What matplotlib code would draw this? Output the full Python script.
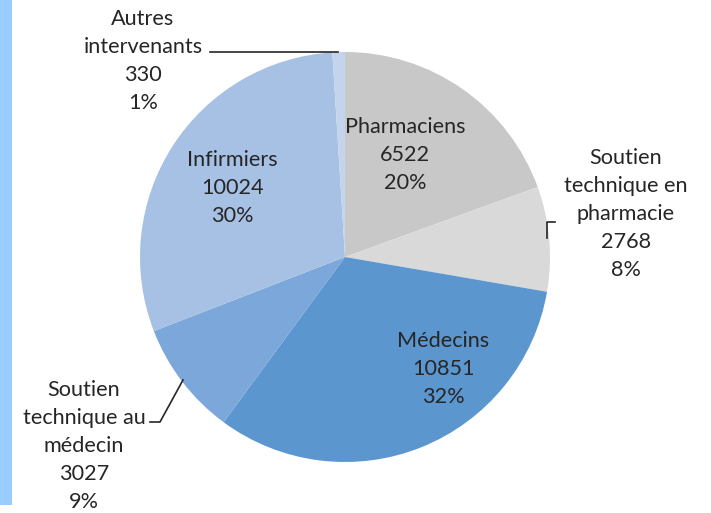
import matplotlib.pyplot as plt
from matplotlib.patches import Rectangle

# data
labels = ['Pharmaciens', 'Soutien\ntechnique en\npharmacie', 'Médecins',
          'Soutien\ntechnique au\nmédecin', 'Infirmiers', 'Autres\nintervenants']
values = [6522, 2768, 10851, 3027, 10024, 330]
percents = [20, 8, 32, 9, 30, 1]
colors = ['#C8C8C8', '#D9D9D9', '#5B96CE', '#7BA7DA', '#A7C1E4', '#C3D4EC']

# label centres in pixel coords (x, y from top)
label_pos = [(405, 155), (626, 214), (443, 369), (84, 446), (232, 188), (143, 61)]

W, H = 711, 513
fig = plt.figure(figsize=(W / 100, H / 100), dpi=100)
ax = fig.add_axes([0, 0, 1, 1])

# left blue strip
ax.add_patch(Rectangle((0, H - 505), 12, 505, color='#99CCFF', lw=0))

ax.pie(values, colors=colors, startangle=90, counterclock=False,
       center=(345, H - 257), radius=205, wedgeprops=dict(linewidth=0),
       frame=True)
ax.set_xlim(0, W)
ax.set_ylim(0, H)
ax.set_aspect('equal')
ax.axis('off')

for lab, v, p, (x, y) in zip(labels, values, percents, label_pos):
    txt = f'{lab}\n{v}\n{p}%'
    ax.text(x, H - y, txt, ha='center', va='center', fontsize=15.6,
            family='Lato', color='#262626', linespacing=1.5)

# leader lines
lc = dict(color='#262626', lw=1.2)
ax.plot([210, 338], [H - 52, H - 52], **lc)
ax.plot([547, 547, 555], [H - 238, H - 222, H - 222], **lc)
ax.plot([183, 160, 150], [H - 380, H - 422, H - 422], **lc)

fig.savefig('out.png', dpi=100)
